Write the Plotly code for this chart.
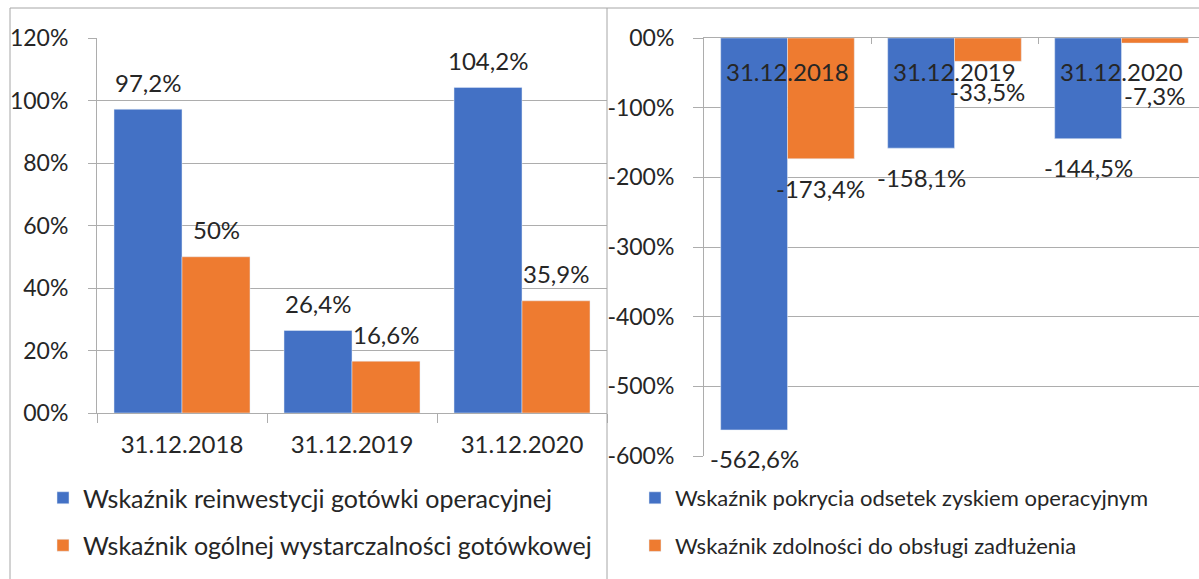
import plotly.graph_objects as go

# ---------------- data ----------------
categories = ["31.12.2018", "31.12.2019", "31.12.2020"]

left_names = ["Wskaźnik reinwestycji gotówki operacyjnej",
              "Wskaźnik ogólnej wystarczalności gotówkowej"]
left_blue = [97.2, 26.4, 104.2]
left_orange = [50.0, 16.6, 35.9]

right_names = ["Wskaźnik pokrycia odsetek zyskiem operacyjnym",
               "Wskaźnik zdolności do obsługi zadłużenia"]
right_blue = [-562.6, -158.1, -144.5]
right_orange = [-173.4, -33.5, -7.3]

left_tickvals = [0, 20, 40, 60, 80, 100, 120]
left_ticktext = ["00%", "20%", "40%", "60%", "80%", "100%", "120%"]
right_tickvals = [0, -100, -200, -300, -400, -500, -600]
right_ticktext = ["00%", "-100%", "-200%", "-300%", "-400%", "-500%", "-600%"]

# ---------------- style ----------------
W, H = 1199, 579
BLUE = "#4371C5"
ORANGE = "#EE7B30"
GRID = "#ADADAD"
TXT = "#262626"
FONT = "Lato"
# extra label displacement (px) for the right orange series
right_orange_extra = [0, 0, -22]


def px(x):
    return x / W


def py(y):
    return 1 - y / H


def fmt(v):
    s = f"{v:.1f}".replace(".", ",")
    if s.endswith(",0"):
        s = s[:-2]
    return s + "%"


fig = go.Figure()

fig.add_trace(go.Bar(x=categories, y=left_blue, name=left_names[0], marker_color=BLUE,
                     xaxis="x", yaxis="y", legend="legend", legendgroup="a"))
fig.add_trace(go.Bar(x=categories, y=left_orange, name=left_names[1], marker_color=ORANGE,
                     xaxis="x", yaxis="y", legend="legend", legendgroup="b"))
fig.add_trace(go.Bar(x=categories, y=right_blue, name=right_names[0], marker_color=BLUE,
                     xaxis="x2", yaxis="y2", legend="legend2", legendgroup="c"))
fig.add_trace(go.Bar(x=categories, y=right_orange, name=right_names[1], marker_color=ORANGE,
                     xaxis="x2", yaxis="y2", legend="legend2", legendgroup="d"))

LBL = 24
ann = []
for c, v in zip(categories, left_blue):
    ann.append(dict(x=c, y=v, xref="x", yref="y", text=fmt(v), showarrow=False,
                    xshift=-34, yshift=27, yanchor="middle", font=dict(size=LBL)))
for c, v in zip(categories, left_orange):
    ann.append(dict(x=c, y=v, xref="x", yref="y", text=fmt(v), showarrow=False,
                    xshift=34, yshift=27, yanchor="middle", font=dict(size=LBL)))
for c, v in zip(categories, right_blue):
    ann.append(dict(x=c, y=v, xref="x2", yref="y2", text=fmt(v), showarrow=False,
                    xshift=-33, yshift=-29, yanchor="middle", font=dict(size=LBL)))
for c, v, e in zip(categories, right_orange, right_orange_extra):
    ann.append(dict(x=c, y=v, xref="x2", yref="y2", text=fmt(v), showarrow=False,
                    xshift=33, yshift=-30 + e, yanchor="middle", font=dict(size=LBL)))
for c in categories:
    ann.append(dict(x=c, y=0, xref="x2", yref="y2", text=c, showarrow=False,
                    yshift=-33, yanchor="middle", font=dict(size=LBL)))

frame = dict(color="#A6A6A6", width=1)
shapes = [
    dict(type="line", xref="paper", yref="paper", x0=px(10), x1=px(10), y0=py(8), y1=py(590), line=frame),
    dict(type="line", xref="paper", yref="paper", x0=px(607), x1=px(607), y0=py(8), y1=py(590), line=frame),
    dict(type="line", xref="paper", yref="paper", x0=px(10), x1=px(1205), y0=py(8), y1=py(8), line=frame),
]

axis_common = dict(gridcolor=GRID, gridwidth=1, linecolor=GRID, linewidth=1, showline=True,
                   tickcolor=GRID, tickfont=dict(size=23, color=TXT), zeroline=False,
                   automargin=False)

fig.update_layout(
    width=W, height=H, margin=dict(l=0, r=0, t=0, b=0, autoexpand=False),
    paper_bgcolor="white", plot_bgcolor="white",
    font=dict(family=FONT, color=TXT),
    barmode="group", bargap=0.2, bargroupgap=0,
    annotations=ann, shapes=shapes,
    xaxis=dict(domain=[px(97), px(607)], anchor="y", type="category",
               showgrid=False, ticks="outside", ticklen=9, tickson="boundaries",
               linecolor=GRID, showline=True, tickcolor=GRID, automargin=False,
               tickfont=dict(size=24, color=TXT), ticklabelstandoff=10),
    yaxis=dict(domain=[py(413), py(38)], anchor="x", range=[0, 120],
               tickvals=left_tickvals, ticktext=left_ticktext,
               ticks="outside", ticklen=8, ticklabelstandoff=15, **axis_common),
    xaxis2=dict(domain=[px(704), 1.0], anchor="y2", type="category", side="top",
                range=[-0.5, 2.464], showgrid=False, ticks="inside", ticklen=6,
                tickson="boundaries", showticklabels=False, automargin=False,
                linecolor=GRID, showline=True, tickcolor=GRID),
    yaxis2=dict(domain=[py(456), py(38)], anchor="x2", range=[-600, 0],
                tickvals=right_tickvals, ticktext=right_ticktext,
                ticks="outside", ticklen=10, ticklabelstandoff=14, **axis_common),
    legend=dict(x=px(43), y=py(475), xanchor="left", yanchor="top",
                font=dict(size=25, color=TXT), traceorder="grouped", tracegroupgap=12,
                bgcolor="rgba(0,0,0,0)"),
    legend2=dict(x=px(635), y=py(477), xanchor="left", yanchor="top",
                 font=dict(size=22, color=TXT), traceorder="grouped", tracegroupgap=16,
                 bgcolor="rgba(0,0,0,0)"),
)

fig.write_html("out.html", config={"displayModeBar": False},
               post_script="document.body.style.margin='0';")
